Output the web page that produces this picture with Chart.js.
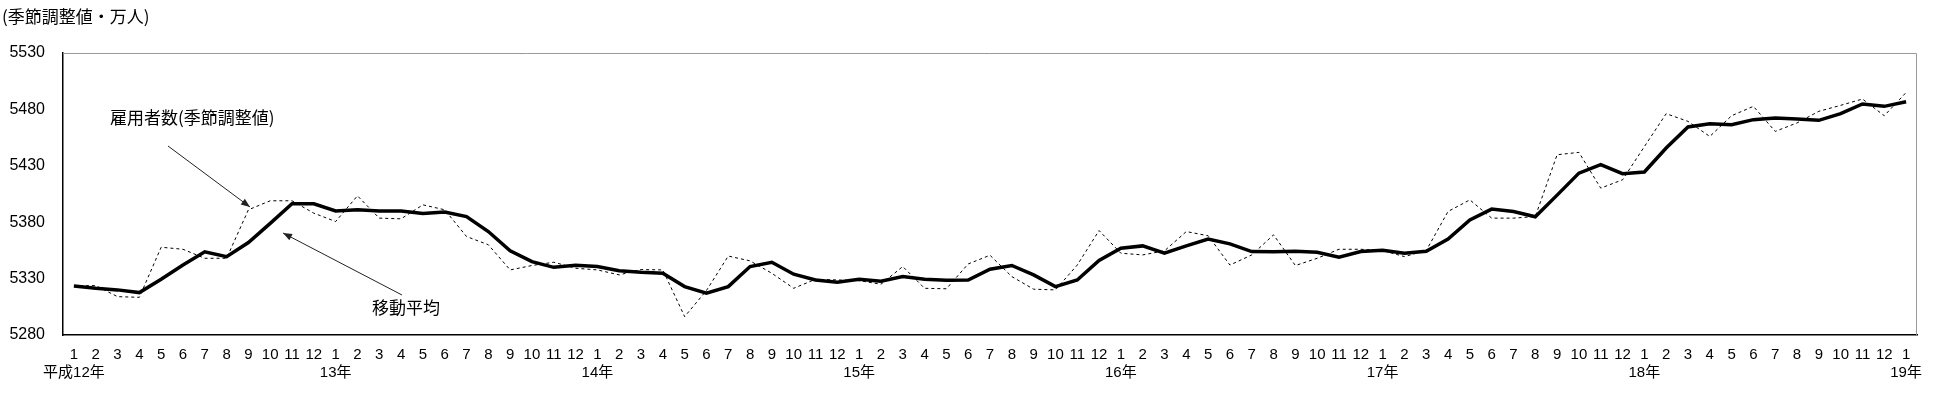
<!DOCTYPE html>
<html>
<head>
<meta charset="utf-8">
<script src="https://cdn.jsdelivr.net/npm/chart.js@4.4.1/dist/chart.umd.min.js"></script>
<style>
html,body{margin:0;padding:0;background:#fff;}
#wrap{width:1950px;height:400px;}
</style>
</head>
<body>
<div id="wrap"><canvas id="c" width="1950" height="400"></canvas></div>
<script>
// ---- data ----
const months = ['1','2','3','4','5','6','7','8','9','10','11','12','1','2','3','4','5','6','7','8','9','10','11','12','1','2','3','4','5','6','7','8','9','10','11','12','1','2','3','4','5','6','7','8','9','10','11','12','1','2','3','4','5','6','7','8','9','10','11','12','1','2','3','4','5','6','7','8','9','10','11','12','1','2','3','4','5','6','7','8','9','10','11','12','1'];
const yearLabels = {0:'平成12年',12:'13年',24:'14年',36:'15年',48:'16年',60:'17年',72:'18年',84:'19年'};
const employees = [5323.5,5323.8,5314,5313.4,5357.8,5356,5348,5348,5391,5399,5399,5388,
  5380.6,5403.4,5383.6,5383,5395.4,5391,5367.3,5360,5337.7,5341.6,5344.5,5339.2,
  5337.7,5333.3,5338,5337.7,5296.3,5319.4,5350,5345.7,5334.7,5321.4,5329.4,5328.8,
  5328.2,5325,5340.7,5321.4,5321,5343,5350.7,5331.8,5320.6,5320,5342,5372.6,
  5352.5,5351,5354.6,5371.7,5368,5342,5351,5368.8,5341.6,5348,5356,5356,
  5354.9,5349.5,5354.9,5389.5,5399.8,5383.6,5383.6,5385,5439.8,5441.9,5410.2,5417.6,
  5447,5476.2,5469.4,5456,5474.4,5482.7,5460.5,5468,5478.3,5483.6,5489.2,5474.4,
  5495];
const movingAvg = [5323.5,5321.4,5320,5317.6,5329.4,5342,5353.7,5349.5,5362,5379,5396.3,5396.3,
  5390,5391,5390,5390,5387.7,5389,5385,5371.7,5354.6,5345,5340,5341.9,
  5340.7,5337,5335.6,5334.7,5322.9,5317,5322.9,5340.7,5344.5,5333.9,5328.8,5326.8,
  5329.4,5327.7,5331.8,5329.4,5328.5,5328.8,5338.3,5341.6,5333.3,5322.9,5328.8,5346,
  5357,5359,5352.5,5359,5365,5360.8,5354,5353.7,5354.3,5353.4,5349,5354,
  5355.2,5352.5,5354.3,5365,5382,5391.6,5389.5,5384.8,5404,5423.5,5431,5423,
  5424.5,5445.8,5464.4,5467.3,5466.4,5470.9,5472.3,5471.4,5470.3,5476.2,5484.8,5482.7,
  5486.8];
const yMin = 5280, yMax = 5530, yStep = 50;
const unitTitle = '(季節調整値・万人)';
const labelEmployees = '雇用者数(季節調整値)';
const labelAvg = '移動平均';

const labels = months.map((m,i)=>[m, yearLabels[i] || '']);
const FONT = '"Liberation Sans", "Noto Sans CJK JP", sans-serif';

function arrow(ctx, x1,y1,x2,y2){
  ctx.save();
  ctx.strokeStyle='#222'; ctx.fillStyle='#222'; ctx.lineWidth=1;
  ctx.beginPath(); ctx.moveTo(x1,y1); ctx.lineTo(x2,y2); ctx.stroke();
  const a=Math.atan2(y2-y1,x2-x1), L=9, W=3.5;
  ctx.beginPath();
  ctx.moveTo(x2,y2);
  ctx.lineTo(x2-L*Math.cos(a)+W*Math.sin(a), y2-L*Math.sin(a)-W*Math.cos(a));
  ctx.lineTo(x2-L*Math.cos(a)-W*Math.sin(a), y2-L*Math.sin(a)+W*Math.cos(a));
  ctx.closePath(); ctx.fill();
  ctx.restore();
}

const deco = {
  id:'deco',
  afterDraw(chart){
    const {ctx, chartArea:a} = chart;
    ctx.save();
    ctx.strokeStyle='#999'; ctx.lineWidth=1;
    ctx.beginPath();
    ctx.moveTo(a.left, a.top+0.5); ctx.lineTo(a.right-0.5, a.top+0.5); ctx.lineTo(a.right-0.5, a.bottom);
    ctx.stroke();
    ctx.fillStyle='#000';
    ctx.textBaseline='middle'; ctx.textAlign='left';
    ctx.font='17px "Noto Sans CJK JP", sans-serif';
    ctx.fillText(unitTitle, 2, 17);
    ctx.fillText(labelEmployees, 110, 118);
    ctx.fillText(labelAvg, 372, 308);
    ctx.restore();
    arrow(ctx, 168,146, 250,207);
    arrow(ctx, 402,295, 283,233);
  }
};

new Chart(document.getElementById('c'), {
  type:'line',
  data:{
    labels,
    datasets:[
      {label:labelAvg, data:movingAvg, borderColor:'#000', borderWidth:3.5, pointRadius:0, tension:0, fill:false},
      {label:labelEmployees, data:employees, borderColor:'#000', borderWidth:1, borderDash:[3,3], pointRadius:0, tension:0, fill:false}
    ]
  },
  options:{
    responsive:false, animation:false, devicePixelRatio:1,
    layout:{padding:{left:0,right:33,top:53,bottom:0}},
    plugins:{legend:{display:false}, tooltip:{enabled:false}, title:{display:false}},
    scales:{
      x:{
        offset:true,
        grid:{display:false, drawTicks:false},
        border:{display:true, color:'#000', width:1.5},
        ticks:{autoSkip:false, maxRotation:0, minRotation:0, padding:11, color:'#000',
               font:{family:FONT, size:15, lineHeight:1.2}},
        afterFit(ax){ ax.height = 65; }
      },
      y:{
        min:yMin, max:yMax,
        grid:{display:false, drawTicks:false},
        border:{display:true, color:'#000', width:1.5},
        ticks:{stepSize:yStep, padding:18, color:'#000', font:{family:FONT, size:16},
               callback:(v)=>String(v)},
        afterFit(ax){ ax.width = 63; }
      }
    }
  },
  plugins:[deco]
});
</script>
</body>
</html>
